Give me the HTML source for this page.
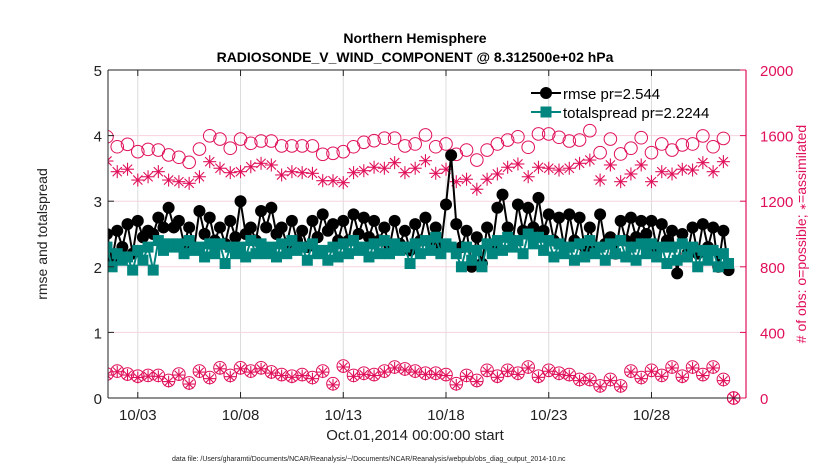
<!DOCTYPE html>
<html><head><meta charset="utf-8">
<style>
body{margin:0;background:#fff;}
svg{display:block;font-family:"Liberation Sans",Arial,sans-serif;}
</style></head>
<body>
<svg id="chart" width="830" height="470" viewBox="0 0 830 470" xmlns="http://www.w3.org/2000/svg">
<text x="415" y="43" text-anchor="middle" font-size="14" font-weight="bold">Northern Hemisphere</text>
<text x="415" y="62" text-anchor="middle" font-size="14" font-weight="bold">RADIOSONDE_V_WIND_COMPONENT @ 8.312500e+02 hPa</text>
<g id="grid"></g>
<g id="series"></g>
<g id="axes"></g>
<text x="415" y="440" text-anchor="middle" font-size="15" fill="#222">Oct.01,2014 00:00:00 start</text>
<text x="172" y="461" font-size="7" fill="#222">data file: /Users/gharamti/Documents/NCAR/Reanalysis/~/Documents/NCAR/Reanalysis/webpub/obs_diag_output_2014-10.nc</text>
<text transform="translate(47,234) rotate(-90)" text-anchor="middle" font-size="14" fill="#222">rmse and totalspread</text>
<text transform="translate(806,234) rotate(-90)" text-anchor="middle" font-size="14" fill="#e0105a"># of obs: o=possible; <tspan font-size="9">∗</tspan>=assimilated</text>
<g>
  <line x1="531" y1="93" x2="561" y2="93" stroke="#000" stroke-width="2"/>
  <circle cx="546" cy="93" r="6" fill="#000"/>
  <text x="563" y="99" font-size="15">rmse pr=2.544</text>
  <line x1="531" y1="112" x2="561" y2="112" stroke="#00857f" stroke-width="2"/>
  <rect x="540.5" y="106.5" width="11" height="11" fill="#00857f"/>
  <text x="563" y="118" font-size="15">totalspread pr=2.2244</text>
</g>
</svg>
<script>
const xTickLabels = ["10/03","10/08","10/13","10/18","10/23","10/28"];
const xTickDays = [2,7,12,17,22,27];
const leftTicks = [0,1,2,3,4,5];
const rightTicks = [0,400,800,1200,1600,2000];
const possibleHigh = [1492,1593,1532,1547,1502,1516,1512,1482,1468,1437,1518,1599,1579,1523,1579,1553,1567,1567,1537,1537,1537,1537,1486,1492,1502,1532,1559,1569,1584,1584,1537,1549,1604,1532,1549,1486,1512,1451,1512,1549,1573,1593,1529,1610,1610,1590,1567,1573,1630,1496,1579,1488,1523,1587,1496,1549,1512,1543,1549,1598,1532,1583,0];
const assimHigh = [1343,1445,1380,1395,1329,1349,1380,1329,1319,1309,1349,1441,1401,1374,1380,1410,1431,1421,1360,1380,1374,1370,1325,1325,1313,1374,1386,1407,1401,1435,1374,1401,1447,1370,1395,1319,1334,1273,1334,1366,1407,1427,1349,1407,1401,1390,1401,1431,1451,1329,1421,1319,1366,1421,1319,1380,1366,1395,1390,1435,1380,1441,0];
const possibleLow = [181,146,164,146,133,138,138,107,146,92,164,125,184,138,184,164,184,159,143,133,143,125,164,87,195,138,151,143,164,189,177,164,151,151,143,87,138,107,169,133,169,151,189,133,169,151,143,113,113,74,113,74,164,125,169,138,189,133,189,143,189,113,0];
const assimLow = [176,140,160,140,125,133,132,100,140,85,158,118,178,130,178,158,178,152,137,126,137,118,158,80,189,132,144,137,158,183,171,158,144,144,137,80,132,100,163,126,163,144,183,126,163,144,137,106,106,68,106,68,158,118,163,132,183,126,183,137,183,106,0];
const rmse = [2.45,2.15,2.5,2.1, 2.55,2.3,2.65,2.2, 2.7,2.45,2.55,2.5, 2.75,2.6,2.9,2.6, 2.7,2.35,2.6,2.3, 2.85,2.5,2.75,2.4, 2.6,2.35,2.7,2.45, 3.0,2.5,2.6,2.4, 2.85,2.6,2.9,2.5, 2.6,2.35,2.7,2.4, 2.55,2.3,2.7,2.45, 2.8,2.55,2.65,2.4, 2.7,2.4,2.8,2.5, 2.75,2.45,2.7,2.4, 2.6,2.3,2.7,2.35, 2.55,2.25,2.65,2.4, 2.75,2.4,2.6,2.3, 2.95,3.7,2.65,2.3, 2.55,2.0,2.45,2.05, 2.6,2.3,2.9,3.1, 2.6,2.4,2.95,2.55, 2.9,2.6,3.05,2.55, 2.8,2.4,2.75,2.3, 2.8,2.4,2.75,2.3, 2.6,2.25,2.8,2.35, 2.45,2.2,2.7,2.4, 2.75,2.45,2.7,2.5, 2.7,2.3,2.65,2.4, 2.55,1.9,2.5,2.2, 2.6,2.2,2.65,2.3, 2.6,2.0,2.55,1.95];
const spread = [2.25,2.05,2.3,2.0, 2.2,2.1,2.15,1.95, 2.25,2.1,2.3,1.95, 2.4,2.25,2.35,2.3, 2.35,2.2,2.4,2.25, 2.3,2.15,2.35,2.2, 2.35,2.05,2.3,2.2, 2.3,2.15,2.4,2.2, 2.35,2.2,2.3,2.15, 2.35,2.2,2.4,2.25, 2.3,2.1,2.35,2.2, 2.25,2.1,2.3,2.15, 2.35,2.2,2.4,2.25, 2.3,2.15,2.35,2.2, 2.4,2.2,2.35,2.25, 2.3,2.05,2.35,2.2, 2.4,2.25,2.45,2.2, 2.35,2.3,2.2,2.0, 2.3,2.1,2.25,2.0, 2.35,2.2,2.4,2.25, 2.45,2.3,2.4,2.2, 2.5,2.35,2.45,2.25, 2.4,2.15,2.35,2.2, 2.3,2.1,2.35,2.15, 2.4,2.2,2.3,2.1, 2.35,2.2,2.4,2.15, 2.3,2.1,2.35,2.2, 2.35,2.15,2.3,2.05, 2.3,2.1,2.35,2.15, 2.3,2.0,2.25,2.1, 2.25,2.0,2.2,2.05];

const NS = "http://www.w3.org/2000/svg";
const L = 108, R = 746, T = 70, B = 398;
const X0 = 0.55, X1 = 31.6;
function xScale(d){ return L + (d - X0) / (X1 - X0) * (R - L); }
function yLeft(v){ return B - v / 5 * (B - T); }
function yRight(n){ return B - n / 2000 * (B - T); }
function mk(tag, attrs, parent){
  const e = document.createElementNS(NS, tag);
  for (const k in attrs) e.setAttribute(k, attrs[k]);
  parent.appendChild(e);
  return e;
}
const grid = document.getElementById('grid');
const axes = document.getElementById('axes');
const series = document.getElementById('series');
const PINK = "#e0105a";

const clip = mk('clipPath', {id:"plotclip"}, document.getElementById('chart'));
mk('rect', {x:L, y:T-8, width:R-L+8, height:B-T+16}, clip);
series.setAttribute('clip-path', 'url(#plotclip)');

xTickDays.forEach((d) => {
  const l = mk('line', {x1:xScale(d), x2:xScale(d), y1:T, y2:B, stroke:"#dcdcdc", "stroke-width":1}, grid);
  
  
});
rightTicks.slice(1, -1).forEach((n) => {
  const l = mk('line', {x1:L, x2:R, y1:yRight(n), y2:yRight(n), stroke:"#f5d3df", "stroke-width":1}, grid);
  
  
});

function drawLine(vals, stepDays, color, name){
  const pts = vals.map((v, i) => xScale(i * stepDays).toFixed(1) + "," + yLeft(v).toFixed(1)).join(" ");
  const p = mk('polyline', {points:pts, fill:"none", stroke:color, "stroke-width":2}, series);
  
  
}
function starMarker(cx, cy, s){
  const g = mk('g', {stroke:PINK, "stroke-width":1.1}, series);
  
  
  for (let a = 0; a < 4; a++) {
    const ang = a * Math.PI / 4;
    mk('line', {x1:cx - s*Math.cos(ang), y1:cy - s*Math.sin(ang), x2:cx + s*Math.cos(ang), y2:cy + s*Math.sin(ang)}, g);
  }
}
possibleHigh.forEach((n, i) => {
  const c = mk('circle', {cx:xScale(i*0.5), cy:yRight(n), r:6.3, fill:"none", stroke:PINK, "stroke-width":1}, series);
  
  
});
assimHigh.forEach((n, i) => starMarker(xScale(i*0.5), yRight(n), 6.5));
possibleLow.forEach((n, i) => {
  const c = mk('circle', {cx:xScale(i*0.5), cy:yRight(n), r:6.3, fill:"none", stroke:PINK, "stroke-width":1}, series);
  
  
});
assimLow.forEach((n, i) => starMarker(xScale(i*0.5), yRight(n), 6));

drawLine(rmse, 0.25, "#000", 'rmse-line');
rmse.forEach((v, i) => {
  const c = mk('circle', {cx:xScale(i*0.25), cy:yLeft(v), r:6, fill:"#000"}, series);
  
  
});
drawLine(spread, 0.25, "#00857f", 'spread-line');
spread.forEach((v, i) => {
  const r = mk('rect', {x:xScale(i*0.25)-5.5, y:yLeft(v)-5.5, width:11, height:11, fill:"#00857f"}, series);
  
  
});

let a;
a = mk('line', {x1:L, x2:L, y1:T, y2:B, stroke:"#222", "stroke-width":1}, axes);
 
a = mk('line', {x1:L, x2:R, y1:B, y2:B, stroke:"#222", "stroke-width":1}, axes);
 
a = mk('line', {x1:L, x2:R, y1:T, y2:T, stroke:"#222", "stroke-width":1}, axes);
 
a = mk('line', {x1:R, x2:R, y1:T, y2:B, stroke:PINK, "stroke-width":1.2}, axes);
 

xTickDays.forEach((d, i) => {
  mk('line', {x1:xScale(d), x2:xScale(d), y1:B, y2:B-6, stroke:"#222"}, axes);
  mk('line', {x1:xScale(d), x2:xScale(d), y1:T, y2:T+6, stroke:"#222"}, axes);
  const t = mk('text', {x:xScale(d), y:B+22, "text-anchor":"middle", "font-size":15, fill:"#222"}, axes);
  t.textContent = xTickLabels[i];
  
  
});
leftTicks.forEach((v) => {
  mk('line', {x1:L, x2:L+6, y1:yLeft(v), y2:yLeft(v), stroke:"#222"}, axes);
  const t = mk('text', {x:L-6, y:yLeft(v)+6, "text-anchor":"end", "font-size":15, fill:"#222"}, axes);
  t.textContent = v;
  
  
});
rightTicks.forEach((n) => {
  mk('line', {x1:R-6, x2:R, y1:yRight(n), y2:yRight(n), stroke:PINK}, axes);
  const t = mk('text', {x:R+14, y:yRight(n)+6, "font-size":15, fill:PINK}, axes);
  t.textContent = n;
  
  
});
</script>
</body></html>
